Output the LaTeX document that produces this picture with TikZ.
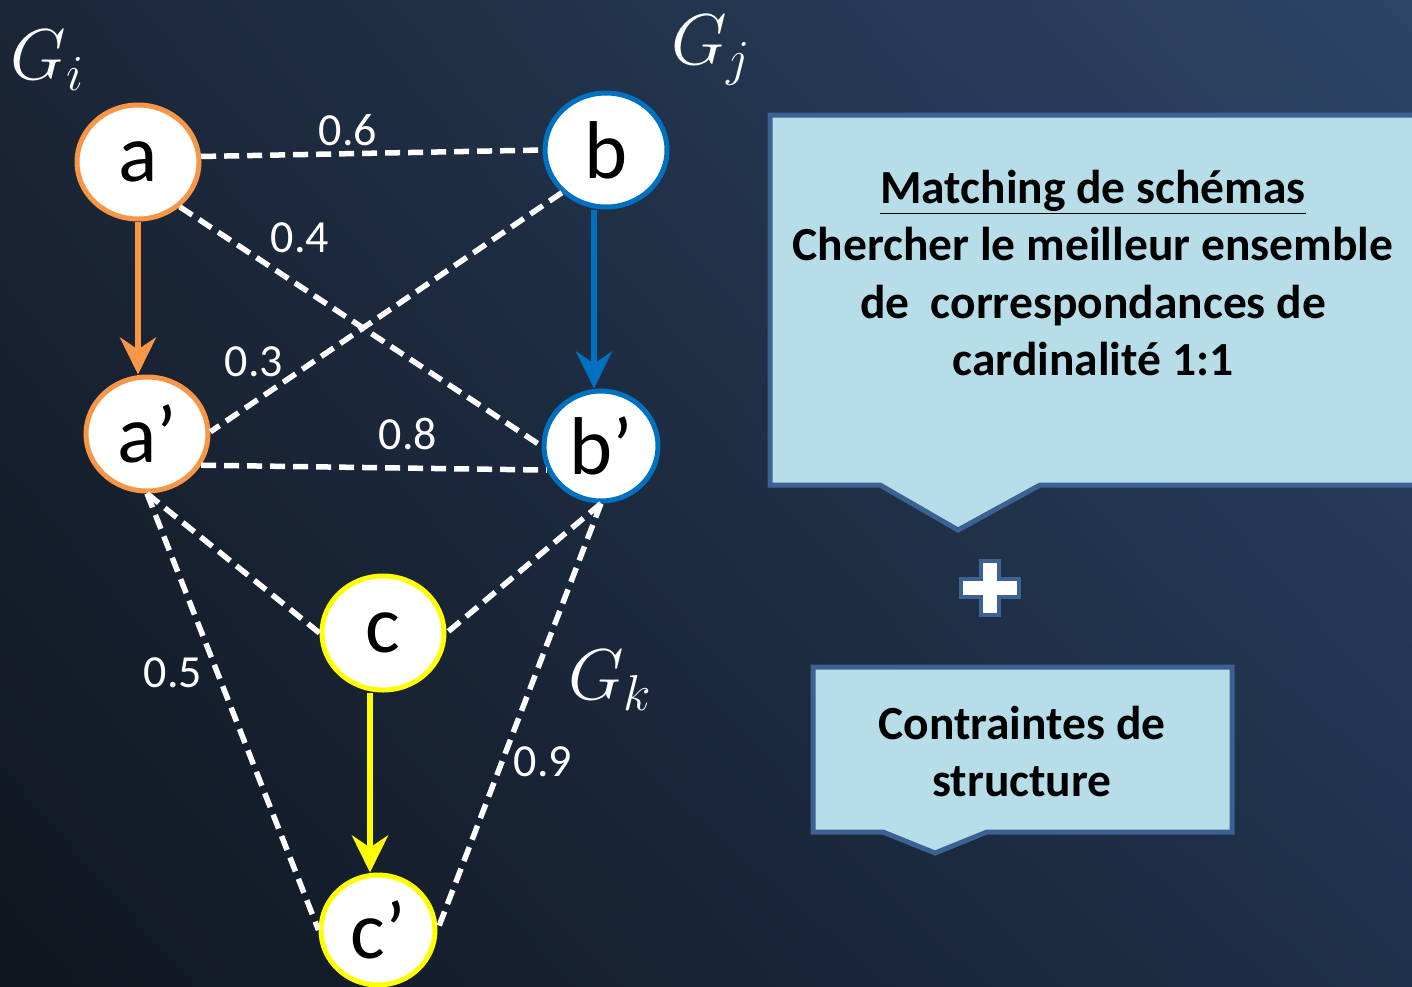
\RequirePackage{fix-cm}
\documentclass[tikz,border=0pt]{standalone}
\usepackage{fontspec}
\setmainfont{Carlito}
\usetikzlibrary{positioning,shapes.geometric,arrows.meta,shadings}
\definecolor{NightTL}{HTML}{1B2638}
\definecolor{NightTR}{HTML}{2C4566}
\definecolor{NightBL}{HTML}{10161F}
\definecolor{NightBR}{HTML}{1F304A}
\definecolor{GiOrange}{HTML}{F79646}
\definecolor{GjBlue}{HTML}{0070C0}
\definecolor{GkYellow}{HTML}{FFFF00}
\definecolor{BoxFill}{HTML}{B7DEE8}
\definecolor{BoxEdge}{HTML}{3C6194}

\begin{document}
\begin{tikzpicture}[x=1pt, y=-1pt, node distance=272pt, >=Stealth,
  every node/.style={font=\fontsize{46}{55}\selectfont, text=white},
  vertex/.style={ellipse, draw, line width=5pt, fill=white, text=black, inner sep=0pt,
    minimum width=122pt, minimum height=114pt, font=\fontsize{82}{96}\selectfont},
  gi/.style={vertex, draw=GiOrange},
  gj/.style={vertex, draw=GjBlue},
  gk/.style={vertex, draw=GkYellow},
  small/.style={minimum width=114pt, minimum height=110pt},
  match/.style={white, line width=5.5pt, dash pattern=on 15pt off 8pt},
  link/.style={-{Stealth[length=37pt, width=36pt, inset=12pt]}, line width=6.5pt},
  graphname/.style={font=\fontsize{72}{80}\selectfont, text=white},
  callout/.style={fill=BoxFill, draw=BoxEdge, line width=5pt},
  boxtext/.style={text=black, align=center, font=\fontsize{47.5}{57}\selectfont\bfseries}]
  \clip (0,0) rectangle (1412,986);
  \shade[upper left=NightTL, upper right=NightTR, lower left=NightBL, lower right=NightBR]
    (0,0) rectangle (1412,986);

  % graphs
  \node[gi] (a) at (138,162) {a};
  \node[gi] (ap) [below of=a, xshift=9pt] {a’};
  \node[gj] (b) [right of=a, xshift=196pt, yshift=12pt] {b};
  \node[gj, small] (bp) [below of=b, xshift=-5pt, yshift=-24pt] {b’};
  \node[gk] (c) [below of=ap, xshift=236pt, yshift=73pt] {c};
  \node[gk, small] (cp) [below of=c, xshift=-5pt, yshift=-25pt] {c’};

  \node[graphname] (namei) at (47,60) {$G_i$};
  \node[graphname] (namej) at (711,50) {$G_j$};
  \node[graphname] (namek) at (610,680) {$G_k$};

  % correspondences
  \draw[match] (a.5) -- (b.west);
  \draw[match] (a.-47) -- (bp.west);
  \draw[match] (b.-136) -- (ap.2);
  \draw[match] (ap.-30) -- (bp.-156);
  \draw[match] (ap.south) -- (c.west);
  \draw[match] (ap.south) -- (cp.west);
  \draw[match] (bp.south) -- (c.east);
  \draw[match] (bp.south) -- (cp.east);

  \node (w06) at (348,130) {0.6};
  \node (w04) at (300,238) {0.4};
  \node (w03) at (254,362) {0.3};
  \node (w08) at (408,434) {0.8};
  \node (w05) at (173,673) {0.5};
  \node (w09) at (543,762) {0.9};

  % edges inside each graph
  \coordinate (bfoot) at ([xshift=-12pt]b.south);
  \coordinate (cfoot) at ([xshift=-13pt]c.south);
  \draw[link, GiOrange] (a.south) -- (a.south |- ap.north);
  \draw[link, GjBlue] (bfoot) -- (bfoot |- bp.north);
  \draw[link, GkYellow] (cfoot) -- (cfoot |- cp.north);

  % callouts
  \draw[callout] (770,115) -- (1425,115) -- (1425,485) -- (1040,485) -- (958,530)
    -- (880,485) -- (770,485) -- cycle;
  \node[boxtext] (goal) at (1093,273) {\underline{Matching de schémas}\\
    Chercher le meilleur ensemble\\de~ correspondances de\\cardinalité 1:1};
  \draw[fill=white, draw=BoxEdge, line width=4pt] (981,561) -- (999,561) -- (999,579)
    -- (1019,579) -- (1019,597) -- (999,597) -- (999,615) -- (981,615) -- (981,597)
    -- (961,597) -- (961,579) -- (981,579) -- cycle;
  \draw[callout] (813,667) -- (1232,667) -- (1232,832) -- (987,832) -- (935,853)
    -- (883,832) -- (813,832) -- cycle;
  \node[boxtext] (rules) at (1022,751) {Contraintes de\\structure};
\end{tikzpicture}
\end{document}
